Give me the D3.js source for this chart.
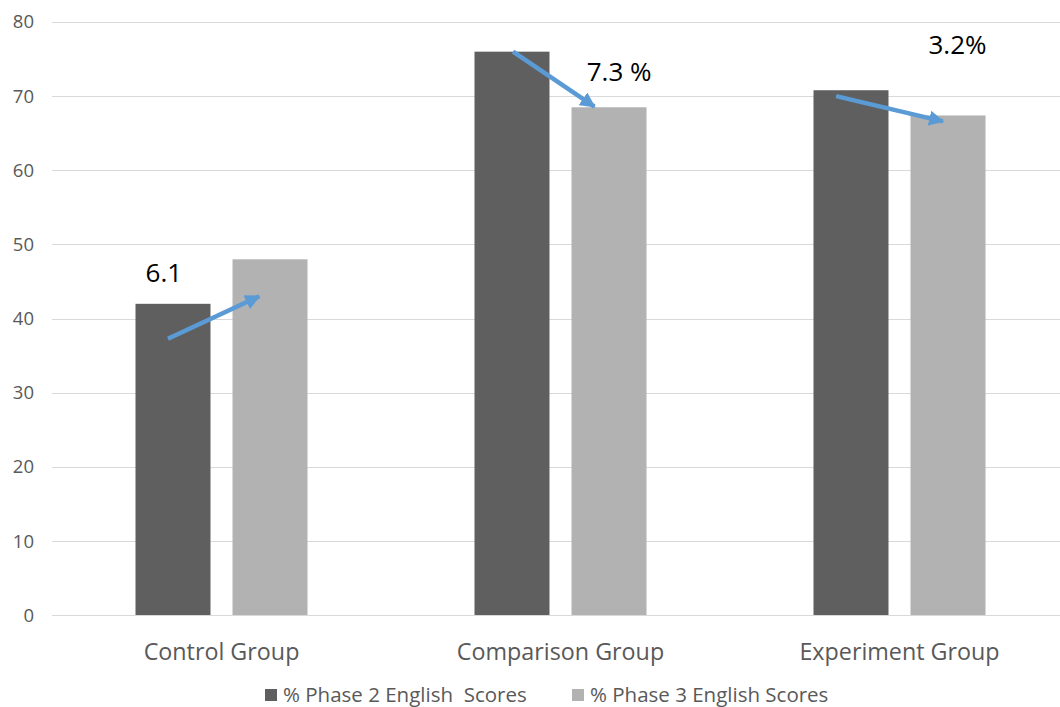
<!DOCTYPE html>
<html><head><meta charset="utf-8">
<script src="https://cdn.jsdelivr.net/npm/d3@7/dist/d3.min.js"></script>
<style>body{margin:0;background:#fff;}svg{display:block;font-family:"Open Sans",sans-serif;}</style>
</head><body>
<svg id="chart" width="1060" height="707"></svg>
<script>
const categories = ["Control Group", "Comparison Group", "Experiment Group"];
const seriesNames = ["% Phase 2 English  Scores", "% Phase 3 English Scores"];
const phase2 = [42, 76, 70.8];
const phase3 = [48, 68.5, 67.4];
const yTicks = [0, 10, 20, 30, 40, 50, 60, 70, 80];
const changeLabels = ["6.1", "7.3 %", "3.2%"];
// arrow annotation: start/end values (y data units) and positions within each band (fraction)
const arrowFrom = [37.3, 76.0, 70.0];
const arrowTo = [43.0, 68.6, 66.6];
const arrowFromPos = [0.342, 0.36, 0.313];
const arrowToPos = [0.611, 0.60, 0.628];
const labelValue = [44.9, 72.1, 75.7];
const labelPos = [0.33, 0.673, 0.671];

const colors = ["#5f5f5f", "#b2b2b2"];
const svg = d3.select("#chart");
const x0 = d3.scaleBand().domain(categories).range([52, 1069]).paddingInner(0).paddingOuter(0);
const x1 = d3.scaleBand().domain([0, 1]).range([83.5, 339 - 83.5]).paddingInner(0.227);
const y = d3.scaleLinear().domain([0, 80]).range([615.3, 22]);

// gridlines
svg.append("g").selectAll("line").data(yTicks).join("line")
  .attr("x1", 52).attr("x2", 1060)
  .attr("y1", d => Math.round(y(d)) + 0.5).attr("y2", d => Math.round(y(d)) + 0.5)
  .attr("stroke", "#d9d9d9").attr("stroke-width", 1);

// y axis labels
const yAxis = d3.axisLeft(y).tickValues(yTicks).tickSize(0).tickPadding(0);
const yg = svg.append("g").attr("transform", "translate(34,0)").call(yAxis);
yg.select(".domain").remove();
yg.attr("font-size", null).attr("font-family", null);
yg.selectAll("text").attr("fill", "#595959").style("font-size", "18.5px").style("font-family", "'Open Sans',sans-serif");

// bars
const data = categories.map((c, i) => ({c, vals: [phase2[i], phase3[i]]}));
const groups = svg.append("g").selectAll("g").data(data).join("g")
  .attr("transform", d => `translate(${x0(d.c)},0)`);
groups.selectAll("rect").data(d => d.vals.map((v, k) => ({v, k}))).join("rect")
  .attr("x", d => x1(d.k)).attr("width", x1.bandwidth())
  .attr("y", d => y(d.v)).attr("height", d => y(0) - y(d.v))
  .attr("fill", d => colors[d.k]);

// baseline
svg.append("line").attr("x1", 52).attr("x2", 1060).attr("y1", Math.round(y(0)) + 0.5).attr("y2", Math.round(y(0)) + 0.5)
  .attr("stroke", "#d9d9d9");

// category labels
const xAxis = d3.axisBottom(x0).tickSize(0).tickPadding(0);
const xg = svg.append("g").attr("transform", `translate(0,${y(0)})`).call(xAxis);
xg.select(".domain").remove();
xg.attr("font-size", null).attr("font-family", null);
xg.selectAll("text").attr("dy", null).attr("y", 44.7).attr("fill", "#595959").style("font-size", "23.3px").style("font-family", "'Open Sans',sans-serif");

// arrows
const defs = svg.append("defs");
defs.append("marker").attr("id", "ah").attr("viewBox", "0 0 10 10").attr("refX", 9).attr("refY", 5)
  .attr("markerWidth", 3.4).attr("markerHeight", 3.4).attr("orient", "auto")
  .append("path").attr("d", "M0,0 L10,5 L0,10 z").attr("fill", "#5b9bd5");
const bw = x0.bandwidth();
svg.append("g").selectAll("line").data(categories).join("line")
  .attr("x1", (c, i) => x0(c) + arrowFromPos[i] * bw)
  .attr("y1", (c, i) => y(arrowFrom[i]))
  .attr("x2", (c, i) => x0(c) + arrowToPos[i] * bw)
  .attr("y2", (c, i) => y(arrowTo[i]))
  .attr("stroke", "#5b9bd5").attr("stroke-width", 4.5)
  .attr("marker-end", "url(#ah)");

// change labels
svg.append("g").selectAll("text").data(categories).join("text")
  .attr("x", (c, i) => x0(c) + labelPos[i] * bw)
  .attr("y", (c, i) => y(labelValue[i]))
  .attr("text-anchor", "middle").attr("fill", "#000")
  .style("font-size", "26px")
  .text((c, i) => changeLabels[i]);

// legend
const legendX = [265, 572];
const lg = svg.append("g").selectAll("g").data(seriesNames).join("g")
  .attr("transform", (d, i) => `translate(${legendX[i]},695)`);
lg.append("rect").attr("x", 0).attr("y", -6).attr("width", 12).attr("height", 12).attr("fill", (d, i) => colors[i]);
lg.append("text").attr("x", 18).attr("y", 0).attr("dy", "0.35em").attr("fill", "#595959")
  .style("font-size", "20.5px").style("white-space", "pre").attr("xml:space", "preserve").text(d => d);
</script>
</body></html>
